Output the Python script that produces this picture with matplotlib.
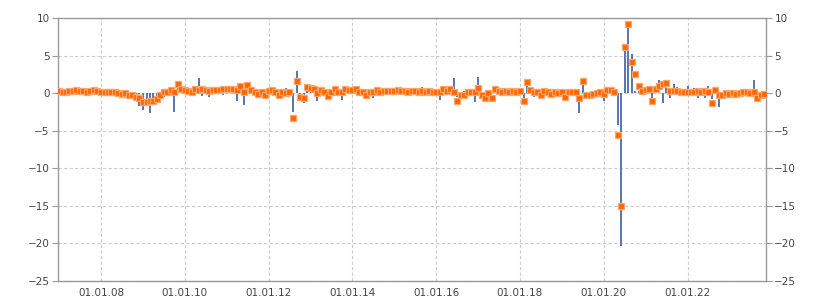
import numpy as np
import pandas as pd
import matplotlib
matplotlib.use('Agg')
from matplotlib import pyplot as plt
import matplotlib.dates as mdates

# monthly values, Jan 2007 .. Nov 2023
months = pd.date_range('2007-01-01', '2023-11-01', freq='MS')

# blue bars
bars = [
    # 2007
    0.5, 0.2, 0.1, 0.3, 0.2, 0.4, 0.3, 0.1, 0.2, 0.3, 0.2, 0.3,
    # 2008
    0.1, 0.2, 0.0, 0.1, 0.2, -0.2, -0.7, 0.1, -0.3, -0.4, -0.6, -1.7,
    # 2009
    -2.2, -1.4, -2.6, -1.0, -0.9, -0.6, -0.5, 0.4, 0.3, -2.5, 1.6, 0.3,
    # 2010
    0.3, 0.2, 0.1, 0.9, 2.0, -0.4, 0.3, -0.5, 0.2, 0.3, 0.2, -0.2,
    # 2011
    0.3, 0.4, 0.3, -1.1, 0.6, -1.6, 0.8, 0.3, 0.1, -0.3, 0.2, -0.5,
    # 2012
    0.3, 0.2, 0.4, -0.1, 0.3, 0.7, 0.6, -2.5, 2.9, -0.6, -1.3, 0.5,
    # 2013
    0.4, 0.7, -1.1, 0.5, 0.2, -0.3, 0.3, 1.0, 0.2, -0.9, 0.5, 0.3,
    # 2014
    0.3, 0.9, 0.2, 0.1, -0.3, 0.3, -0.6, 0.2, 0.4, 0.1, 0.2, 0.3,
    # 2015
    0.2, 0.3, 0.1, 0.5, 0.2, -0.2, 0.3, 0.1, 0.8, 0.2, 0.3, 0.2,
    # 2016
    0.1, -0.9, 0.3, 0.2, 0.4, 2.0, -0.5, 0.2, 0.3, -0.2, 0.1, -1.2,
    # 2017
    2.1, -0.4, 0.2, 0.3, 0.1, 0.5, 0.2, 0.3, 0.1, 0.4, 0.2, 0.3,
    # 2018
    0.3, -0.6, 1.3, 0.3, -0.5, 0.2, -0.4, 0.2, 0.1, -0.3, 0.2, 0.1,
    # 2019
    0.3, -0.5, 0.4, 0.5, 0.6, -2.6, 1.7, -0.2, 0.1, 0.2, 0.1, 0.2,
    # 2020
    -1.1, 0.3, 0.3, -0.2, -4.2, -20.3, 6.0, 9.2, 5.2, 0.3, 0.3, 1.3,
    # 2021
    0.3, 0.5, -1.4, 1.0, 1.7, -1.3, 0.8, -0.6, 1.2, 0.8, -0.3, -0.4,
    # 2022
    0.9, -0.2, 0.7, -0.6, 0.5, -0.6, 0.9, -0.8, 0.5, -1.8, 0.2, 0.1,
    # 2023
    -0.2, 0.1, 0.0, 0.3, 0.6, 0.1, 0.2, 1.8, -0.3, -0.2, -0.1,
]

# orange squares
points = [
    # 2007
    0.3, 0.2, 0.2, 0.3, 0.3, 0.4, 0.3, 0.3, 0.2, 0.3, 0.4, 0.3,
    # 2008
    0.2, 0.2, 0.1, 0.2, 0.1, 0.0, -0.1, 0.0, -0.2, -0.3, -0.5, -0.6,
    # 2009
    -1.2, -1.2, -1.1, -1.0, -0.8, -0.3, 0.2, 0.1, 0.4, 0.1, 1.2, 0.5,
    # 2010
    0.4, 0.3, 0.2, 0.5, 0.4, 0.5, 0.4, 0.3, 0.4, 0.4, 0.4, 0.5,
    # 2011
    0.5, 0.5, 0.5, 0.4, 0.9, 0.1, 1.1, 0.4, 0.2, -0.1, 0.1, -0.3,
    # 2012
    0.3, 0.4, 0.2, -0.2, 0.1, 0.0, 0.1, -3.3, 1.6, -0.5, -0.6, 0.8,
    # 2013
    0.7, 0.6, 0.0, 0.4, 0.2, -0.4, 0.2, 0.5, 0.1, 0.2, 0.6, 0.4,
    # 2014
    0.4, 0.6, 0.2, 0.2, -0.2, 0.2, 0.1, 0.4, 0.2, 0.3, 0.3, 0.3,
    # 2015
    0.3, 0.4, 0.3, 0.3, 0.2, 0.3, 0.3, 0.2, 0.3, 0.2, 0.3, 0.2,
    # 2016
    0.2, 0.1, 0.5, 0.3, 0.6, 0.1, -1.0, -0.3, -0.3, 0.2, 0.1, 0.2,
    # 2017
    0.7, -0.3, -0.6, 0.0, -0.6, 0.6, 0.3, 0.2, 0.3, 0.2, 0.3, 0.2,
    # 2018
    0.3, -1.0, 1.5, 0.4, 0.2, 0.1, -0.2, 0.3, 0.1, -0.1, 0.2, 0.0,
    # 2019
    0.1, -0.5, 0.2, 0.1, 0.2, -0.7, 1.6, -0.3, -0.3, -0.1, 0.0, 0.2,
    # 2020
    -0.1, 0.4, 0.4, 0.1, -5.6, -15.0, 6.2, 9.2, 4.2, 2.6, 0.9, 0.3,
    # 2021
    0.4, 0.5, -1.0, 0.5, 1.0, 1.2, 1.3, 0.3, 0.3, 0.3, 0.2, 0.2,
    # 2022
    0.2, 0.2, 0.1, 0.3, 0.1, 0.3, 0.1, -1.3, 0.4, -0.3, -0.2, 0.0,
    # 2023
    -0.1, 0.0, -0.1, 0.0, 0.2, 0.2, 0.0, 0.2, -0.7, -0.2, -0.1,
]

y_ticks = [10, 5, 0, -5, -10, -15, -20, -25]
x_tick_years = [2008, 2010, 2012, 2014, 2016, 2018, 2020, 2022]

fig = plt.figure(figsize=(8.25, 3.0), dpi=100)
ax = fig.add_axes([58 / 825, 19 / 300, 708 / 825, 263 / 300])

ax.bar(months, bars, width=17, color='#5b78b4', zorder=2)
ax.plot(months, points, linestyle='none', marker='s', markersize=4.2,
        markerfacecolor='#ff6600', markeredgecolor='#ffa56a',
        markeredgewidth=0.9, zorder=3)

ax.set_ylim(-25, 10)
ax.set_yticks(y_ticks)
ax.set_xlim(pd.Timestamp('2006-12-22'), pd.Timestamp('2023-11-16'))
ax.set_xticks([pd.Timestamp(f'{y}-01-01') for y in x_tick_years])
ax.xaxis.set_major_formatter(mdates.DateFormatter('%d.%m.%y'))

ax.grid(True, color='#cccccc', linestyle=(0, (3, 2)), linewidth=0.8, zorder=0)
ax.set_axisbelow(True)

for s in ax.spines.values():
    s.set_color('#999999')
    s.set_linewidth(1.0)

ax.tick_params(axis='y', which='both', left=True, right=True, labelleft=True,
               labelright=True, length=4, color='#999999', labelsize=7.5,
               labelcolor='#444444', pad=2)
ax.tick_params(axis='x', length=0, labelsize=7.5, labelcolor='#444444', pad=5)

fig.savefig('out.png', dpi=100)
